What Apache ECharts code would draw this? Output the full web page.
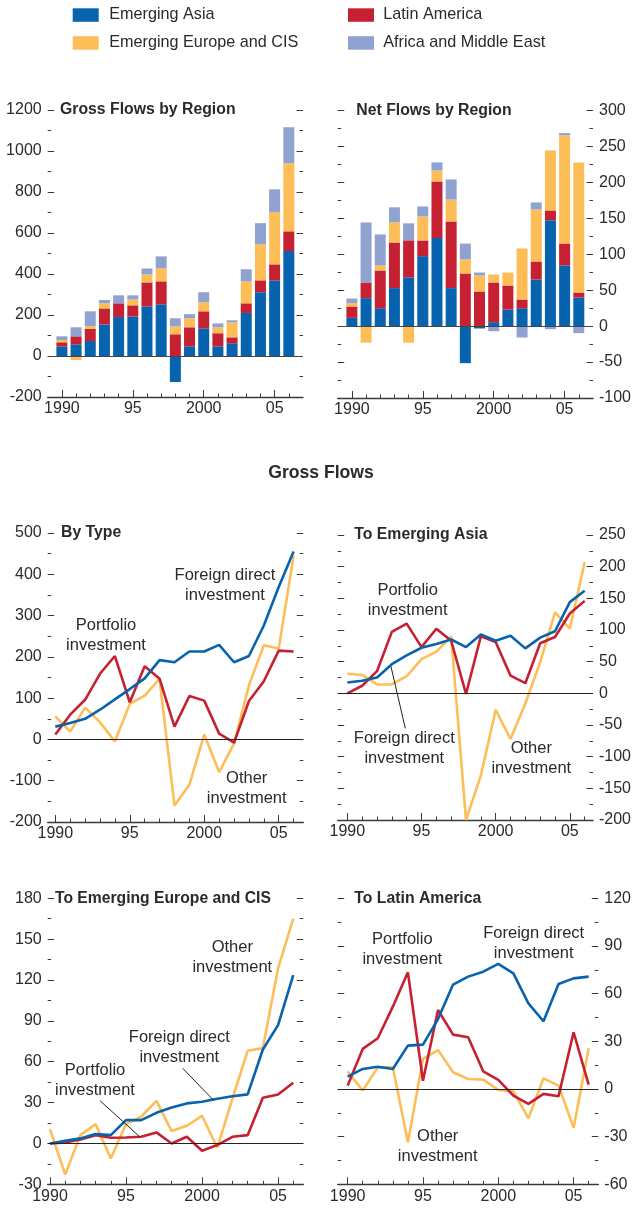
<!DOCTYPE html>
<html>
<head>
<meta charset="utf-8">
<script src="https://cdn.jsdelivr.net/npm/echarts@6/dist/echarts.min.js"></script>
<style>html,body{margin:0;padding:0;background:#fff}#c{width:634px;height:1209px}</style>
</head>
<body>
<div id="c"></div>
<script>
// ---------- data ----------
const years = [1990,1991,1992,1993,1994,1995,1996,1997,1998,1999,2000,2001,2002,2003,2004,2005,2006];
const xTickYears = [1990, 1995, 2000, 2005];
const xTickLabels = ['1990', '95', '2000', '05'];

const regionNames = ['Emerging Asia', 'Latin America', 'Emerging Europe and CIS', 'Africa and Middle East'];
const typeNames = ['Foreign direct investment', 'Portfolio investment', 'Other investment'];

// Gross flows by region (billions)
const grossAsia   = [47, 57, 73, 154, 190, 193, 242, 252, -127, 47, 135, 47, 62, 210, 311, 369, 512];
const grossLatAm  = [20, 39, 59, 78, 67, 54, 117, 112, 106, 93, 83, 64, 29, 47, 58, 78, 96];
const grossEurope = [11, -20, 13, 25, -2, 29, 39, 63, 39, 44, 44, 29, 73, 107, 176, 254, 332];
const grossAME    = [18, 44, 73, 16, 39, 20, 29, 59, 39, 20, 49, 19, 10, 59, 103, 112, 176];

// Net flows by region
const netAsia   = [11.6, 39, 25, 53, 68, 97.5, 122.6, 53, -51.5, -3.2, 5.6, 23.2, 25, 65, 147.6, 84.5, 40];
const netLatAm  = [15.8, 21.8, 52.5, 63.5, 51.5, 21.8, 78.9, 92.8, 73.4, 48.3, 55.2, 33.4, 12.1, 25, 13.5, 30.6, 6.9];
const netEurope = [4.6, -23, 7, 28, -23, 33.4, 15.3, 30.6, 19.5, 22.3, 11.2, 18.1, 71.1, 72.5, 83.6, 150.5, 181.1];
const netAME    = [6.5, 83.6, 43.2, 21, 23.7, 14, 11.2, 27.9, 22.1, 4.1, -7, 0, -15.8, 9.8, -4.2, 3.2, -9.7];

// Gross flows by type
const byTypeFDI       = [31, 40, 50, 72, 97, 122, 148, 192, 187, 213, 213, 229, 187, 202, 276, 369, 455];
const byTypePortfolio = [12, 60, 96, 159, 202, 90, 177, 147, 31, 105, 94, 14, -8, 93, 141, 215, 213];
const byTypeOther     = [56, 19, 77, 42, -5, 86, 106, 147, -160, -110, 12, -79, -10, 131, 228, 220, 445];

// To Emerging Asia
const asiaFDI       = [17, 20, 25, 46, 60, 72, 78, 85, 73, 93, 83, 91, 71, 88, 98, 144, 162];
const asiaPortfolio = [0, 12, 35, 97, 110, 73, 102, 83, -1, 90, 81, 28, 16, 79, 89, 126, 146];
const asiaOther     = [31, 29, 14, 14, 27, 54, 66, 90, -200, -130, -26, -72, -16, 49, 128, 102, 207];

// To Emerging Europe and CIS
const europeFDI       = [0, 2, 3.7, 6.9, 6.1, 17.1, 17.1, 22.5, 26.4, 29.4, 30.6, 32.8, 34.7, 36, 69, 86.9, 123.6];
const europePortfolio = [0, 0.7, 2.9, 6.1, 4.2, 4.4, 4.9, 8.1, 0, 4.9, -5.4, -1.2, 4.9, 6.1, 33.5, 36, 44.5];
const europeOther     = [10.5, -22.8, 6.1, 14.2, -11, 14.2, 19.6, 31.3, 9.1, 13, 20.3, -3.2, 33, 68, 70, 128.5, 165];

// To Latin America
const latamFDI       = [7.8, 12.6, 14, 12.6, 27.3, 27.9, 44, 65.7, 70.7, 73.8, 78.7, 72.8, 53.9, 42.6, 66.1, 69.6, 70.7];
const latamPortfolio = [2.1, 25.2, 31.9, 51.8, 73.4, 5.2, 49.7, 34.2, 32.5, 11.1, 5.7, -4.2, -9.4, -3.1, -4.6, 35.7, 2.7];
const latamOther     = [11.1, -1, 13.6, 13.6, -33.6, 18.9, 24.5, 10.5, 6.3, 5.9, -0.6, -1.5, -18.5, 6.7, 2.1, -24.5, 25.6];

// ---------- style ----------
const FONT = "'Liberation Sans', Arial, Helvetica, sans-serif";
const TXT = '#2a2a2a';
const AX = '#3a3a3a';
const C_BLUE = '#0863ae', C_RED = '#c62132', C_ORANGE = '#fdbe58', C_LBLUE = '#8fa2d0';
const regionColors = [C_BLUE, C_RED, C_ORANGE, C_LBLUE];
const typeColors = [C_BLUE, C_RED, C_ORANGE];

const grids = [
  {left: 47.7, top: 110, width: 255.3, height: 287},
  {left: 337.7, top: 110.7, width: 258.6, height: 287.3},
  {left: 47.7, top: 533, width: 255.6, height: 289},
  {left: 337.7, top: 535, width: 256.6, height: 285},
  {left: 47.7, top: 898.3, width: 255.6, height: 286},
  {left: 337.7, top: 898.3, width: 262.6, height: 286}
];

const xAxes = [], yAxes = [], series = [];
const tickLine = {color: AX, width: 1};
const labelStyle = {fontSize: 16, color: TXT, fontFamily: FONT};

const barCats = [String(years[0] - 1)].concat(years.map(String), [String(years[years.length - 1] + 1)]);
const isMajorCat = (i) => xTickYears.indexOf(+barCats[i]) >= 0;
const pad = (arr) => ['-'].concat(arr, ['-']);

function addCatX(gi) {
  xAxes.push({
    type: 'category', gridIndex: gi, data: barCats, boundaryGap: false, position: 'bottom',
    axisLine: {onZero: false, lineStyle: {color: AX, width: 1.4}},
    axisTick: {inside: true, length: 3.5, interval: (i) => i > 0 && i < barCats.length - 1, lineStyle: tickLine},
    axisLabel: {show: false}, splitLine: {show: false}
  });
  xAxes.push({
    type: 'category', gridIndex: gi, data: barCats, boundaryGap: false, position: 'bottom',
    axisLine: {show: false, onZero: false},
    axisTick: {inside: true, length: 7, interval: (i) => isMajorCat(i), lineStyle: tickLine},
    axisLabel: Object.assign({interval: (i) => isMajorCat(i), margin: 4,
      formatter: (v) => xTickLabels[xTickYears.indexOf(+v)]}, labelStyle),
    splitLine: {show: false}
  });
  return xAxes.length - 2;
}
function addValX(gi, min, max) {
  xAxes.push({
    type: 'value', gridIndex: gi, min, max, position: 'bottom',
    axisLine: {onZero: false, lineStyle: {color: AX, width: 1.4}},
    axisTick: {inside: true, length: 3.5, customValues: years, lineStyle: tickLine},
    axisLabel: {show: false}, splitLine: {show: false}
  });
  xAxes.push({
    type: 'value', gridIndex: gi, min, max, position: 'bottom',
    axisLine: {show: false, onZero: false},
    axisTick: {inside: true, length: 7, customValues: xTickYears, lineStyle: tickLine},
    axisLabel: Object.assign({customValues: xTickYears, margin: 4,
      formatter: (v) => xTickLabels[xTickYears.indexOf(Math.round(v))]}, labelStyle),
    splitLine: {show: false}
  });
  return xAxes.length - 2;
}
function addY(gi, min, max, interval, side) {
  const mk = (pos) => ({
    type: 'value', gridIndex: gi, min, max, interval, position: pos,
    axisLine: {show: false},
    axisTick: {show: true, inside: true, length: 6.5, lineStyle: tickLine},
    minorTick: {show: true, splitNumber: 2, length: 3.5, lineStyle: tickLine},
    splitLine: {show: false}, minorSplitLine: {show: false},
    axisLabel: side === pos ? Object.assign({margin: 6, formatter: (v) => String(v)}, labelStyle) : {show: false}
  });
  yAxes.push(mk('left'));
  yAxes.push(mk('right'));
  return yAxes.length - 2;
}
const zeroLine = (color) => ({
  silent: true, symbol: 'none', label: {show: false},
  lineStyle: {color: color, width: 1.1, type: 'solid'}, emphasis: {disabled: true},
  data: [{yAxis: 0}]
});

function barPanel(gi, ymin, ymax, yint, side, arrays) {
  const xi = addCatX(gi);
  const yi = addY(gi, ymin, ymax, yint, side);
  arrays.forEach((arr, k) => {
    const s = {
      name: regionNames[k], type: 'bar', stack: 'p' + gi, xAxisIndex: xi, yAxisIndex: yi,
      data: pad(arr), barWidth: 11, itemStyle: {color: regionColors[k]}, silent: true
    };
    if (k === arrays.length - 1) s.markLine = zeroLine('#444');
    series.push(s);
  });
}
function linePanel(gi, xmin, xmax, ymin, ymax, yint, side, fdi, port, other) {
  const xi = addValX(gi, xmin, xmax);
  const yi = addY(gi, ymin, ymax, yint, side);
  const order = [[2, other], [1, port], [0, fdi]];
  order.forEach(([k, arr], n) => {
    const s = {
      name: typeNames[k], type: 'line', xAxisIndex: xi, yAxisIndex: yi,
      data: years.map((y, i) => [y, arr[i]]), symbol: 'none', silent: true,
      lineStyle: {color: typeColors[k], width: 2.6}, itemStyle: {color: typeColors[k]}
    };
    if (n === 0) s.markLine = zeroLine('#222');
    series.push(s);
  });
}

barPanel(0, -200, 1200, 200, 'left', [grossAsia, grossLatAm, grossEurope, grossAME]);
barPanel(1, -100, 300, 50, 'right', [netAsia, netLatAm, netEurope, netAME]);
linePanel(2, 1989.49, 2006.65, -200, 500, 100, 'left', byTypeFDI, byTypePortfolio, byTypeOther);
linePanel(3, 1989.35, 2006.56, -200, 250, 50, 'right', asiaFDI, asiaPortfolio, asiaOther);
linePanel(4, 1989.85, 2006.66, -30, 180, 30, 'left', europeFDI, europePortfolio, europeOther);
linePanel(5, 1989.34, 2006.64, -60, 120, 30, 'right', latamFDI, latamPortfolio, latamOther);

// ---------- text, legend ----------
function txt(text, x, y, opts) {
  opts = opts || {};
  return {
    type: 'text', x: x, y: y, silent: true, z: 100,
    style: {
      text: text, fill: TXT,
      font: (opts.bold ? 'bold ' : '') + (opts.size || 16.5) + 'px ' + FONT,
      align: opts.align || 'center', verticalAlign: 'middle',
      textAlign: opts.align || 'center', textVerticalAlign: 'middle',
      lineHeight: opts.lh || 20
    }
  };
}
function leader(x1, y1, x2, y2) {
  return {type: 'line', silent: true, z: 100, shape: {x1, y1, x2, y2}, style: {stroke: '#222', lineWidth: 1}};
}
const legendPos = [
  {x: 72.7, y: 8.3, tx: 109.3, ty: 15},
  {x: 348, y: 8.3, tx: 383.3, ty: 15},
  {x: 72.7, y: 36.2, tx: 109.3, ty: 43},
  {x: 348, y: 36.2, tx: 383.3, ty: 43}
];
const graphics = [];
regionNames.forEach((n, k) => {
  const p = legendPos[k];
  graphics.push({type: 'rect', silent: true, shape: {x: p.x, y: p.y, width: 26, height: 13.5}, style: {fill: regionColors[k]}});
  graphics.push(txt(n, p.tx, p.ty, {align: 'left', size: 16.2}));
});
graphics.push(
  txt('Gross Flows by Region', 60, 110, {align: 'left', bold: true, size: 15.8}),
  txt('Net Flows by Region', 356.3, 110.7, {align: 'left', bold: true, size: 15.8}),
  txt('Gross Flows', 321, 473.3, {bold: true, size: 17.6}),
  txt('By Type', 61, 533, {align: 'left', bold: true, size: 15.8}),
  txt('To Emerging Asia', 354.3, 535, {align: 'left', bold: true, size: 15.8}),
  txt('To Emerging Europe and CIS', 55, 898.3, {align: 'left', bold: true, size: 15.7}),
  txt('To Latin America', 354.3, 898.3, {align: 'left', bold: true, size: 15.8}),
  // By Type annotations
  txt('Foreign direct\ninvestment', 225, 585),
  txt('Portfolio\ninvestment', 106, 635),
  txt('Other\ninvestment', 246.7, 788),
  // Emerging Asia annotations
  txt('Portfolio\ninvestment', 407.7, 600),
  txt('Foreign direct\ninvestment', 404.3, 748.5),
  leader(405.3, 728.3, 391, 666.7),
  txt('Other\ninvestment', 531.3, 758.8),
  // Europe annotations
  txt('Other\ninvestment', 232.3, 957.8),
  txt('Foreign direct\ninvestment', 179.3, 1047.8),
  leader(182.7, 1068.3, 213.3, 1100),
  txt('Portfolio\ninvestment', 95, 1080),
  leader(100, 1100.7, 140, 1137),
  // Latin America annotations
  txt('Portfolio\ninvestment', 402.3, 949.7),
  txt('Foreign direct\ninvestment', 533.7, 943),
  txt('Other\ninvestment', 437.7, 1146)
);

const chart = echarts.init(document.getElementById('c'), null, {renderer: 'canvas'});
chart.setOption({
  animation: false,
  backgroundColor: '#fff',
  textStyle: {fontFamily: FONT},
  grid: grids,
  xAxis: xAxes,
  yAxis: yAxes,
  series: series,
  graphic: graphics
});
</script>
</body>
</html>
